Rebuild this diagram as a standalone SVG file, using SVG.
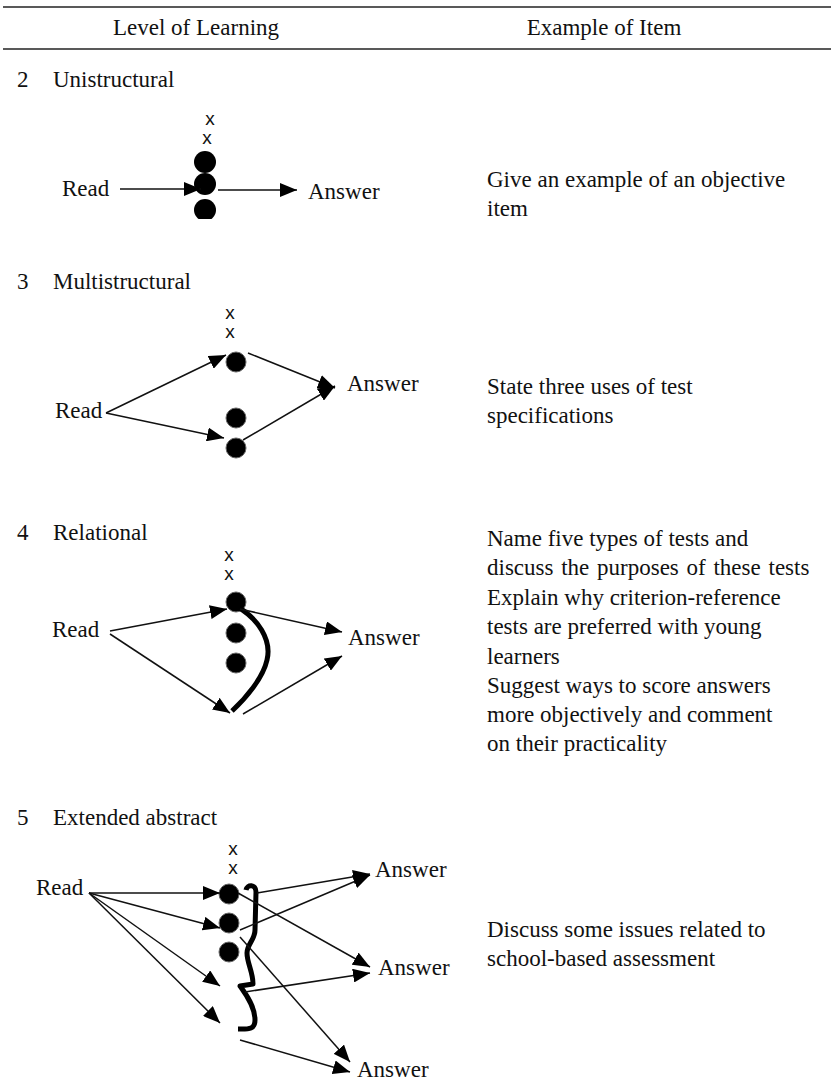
<svg xmlns="http://www.w3.org/2000/svg" width="831" height="1088" viewBox="0 0 831 1088">
<style>
.t{font-family:"Liberation Serif","Times New Roman",serif;font-size:23px;fill:#111}
.x{font-family:"Liberation Sans",Arial,sans-serif;font-size:19px;fill:#111;text-anchor:middle}
.ln{stroke:#111;stroke-width:1.5;fill:none}
.rule{stroke:#222;stroke-width:1.5}
.dot{fill:#000;stroke:#666;stroke-width:1}
.brace{stroke:#000;stroke-width:5;fill:none;stroke-linecap:butt;stroke-linejoin:round}
</style>
<defs>
<marker id="ah" markerUnits="userSpaceOnUse" markerWidth="18" markerHeight="14" refX="17" refY="7" orient="auto">
<path d="M0,0 L17,7 L0,14 z" fill="#000"/>
</marker>
<clipPath id="c2"><rect x="150" y="140" width="120" height="79"/></clipPath>
</defs>

<g id="header">
<line class="rule" x1="3" y1="7" x2="831" y2="7"/>
<line class="rule" x1="3" y1="49" x2="831" y2="49"/>
<text class="t" x="196" y="35" text-anchor="middle">Level of Learning</text>
<text class="t" x="604" y="35" text-anchor="middle">Example of Item</text>
</g>

<g id="level2">
<text class="t" x="17" y="87">2</text>
<text class="t" x="53" y="87">Unistructural</text>
<text class="x" x="210" y="125">x</text>
<text class="x" x="207" y="144">x</text>
<g clip-path="url(#c2)">
<circle cx="205" cy="162" r="11" fill="#000"/>
<circle cx="205" cy="184" r="11" fill="#000"/>
<circle cx="205" cy="210" r="11" fill="#000"/>
</g>
<text class="t" x="62" y="196">Read</text>
<text class="t" x="308" y="199">Answer</text>
<text class="t" x="487" y="187">Give an example of an objective</text>
<text class="t" x="487" y="216">item</text>
</g>

<g id="level3">
<text class="t" x="17" y="289">3</text>
<text class="t" x="53" y="289">Multistructural</text>
<text class="x" x="230" y="319">x</text>
<text class="x" x="230" y="338">x</text>
<circle class="dot" cx="236" cy="362" r="10"/>
<circle class="dot" cx="236" cy="418" r="10"/>
<circle class="dot" cx="236" cy="448" r="10"/>
<text class="t" x="55" y="418">Read</text>
<text class="t" x="347" y="391">Answer</text>
<text class="t" x="487" y="394">State three uses of test</text>
<text class="t" x="487" y="423">specifications</text>
</g>

<g id="level4">
<text class="t" x="17" y="540">4</text>
<text class="t" x="53" y="540">Relational</text>
<text class="x" x="229" y="561">x</text>
<text class="x" x="229" y="580">x</text>
<circle class="dot" cx="236" cy="602" r="10"/>
<circle class="dot" cx="236" cy="633" r="10"/>
<circle class="dot" cx="236" cy="663" r="10"/>
<path class="brace" d="M236,606 C258,618 272,640 267,660 C263,678 246,698 232,711"/>
<text class="t" x="52" y="637">Read</text>
<text class="t" x="348" y="645">Answer</text>
<text class="t" x="487" y="546">Name five types of tests and</text>
<text class="t" x="487" y="575" word-spacing="2">discuss the purposes of these tests</text>
<text class="t" x="487" y="605">Explain why criterion-reference</text>
<text class="t" x="487" y="634">tests are preferred with young</text>
<text class="t" x="487" y="664">learners</text>
<text class="t" x="487" y="693">Suggest ways to score answers</text>
<text class="t" x="487" y="722">more objectively and comment</text>
<text class="t" x="487" y="751">on their practicality</text>
</g>

<g id="level5">
<text class="t" x="17" y="825">5</text>
<text class="t" x="53" y="825">Extended abstract</text>
<text class="x" x="233" y="855">x</text>
<text class="x" x="233" y="874">x</text>
<circle class="dot" cx="229" cy="894" r="10"/>
<circle class="dot" cx="229" cy="923" r="10"/>
<circle class="dot" cx="229" cy="952" r="10"/>
<path class="brace" d="M246,890 C247,884 256,884 256,892 L255,930 C255,940 247,944 247,953 C247,963 253,972 253,984 L240,986 C245,993 255,1006 255,1020 C255,1030 248,1029 238,1029"/>
<text class="t" x="36" y="895">Read</text>
<text class="t" x="375" y="877">Answer</text>
<text class="t" x="378" y="975">Answer</text>
<text class="t" x="357" y="1077">Answer</text>
<text class="t" x="487" y="937">Discuss some issues related to</text>
<text class="t" x="487" y="966">school-based assessment</text>
</g>

<g id="connectors">
<line class="ln" x1="120" y1="189" x2="201" y2="189" marker-end="url(#ah)"/>
<line class="ln" x1="218" y1="190" x2="297" y2="190" marker-end="url(#ah)"/>

<line class="ln" x1="106" y1="413" x2="226" y2="355" marker-end="url(#ah)"/>
<line class="ln" x1="106" y1="413" x2="224" y2="438" marker-end="url(#ah)"/>
<line class="ln" x1="248" y1="353" x2="335" y2="388" marker-end="url(#ah)"/>
<line class="ln" x1="243" y1="440" x2="335" y2="386" marker-end="url(#ah)"/>

<line class="ln" x1="110" y1="631" x2="227" y2="609" marker-end="url(#ah)"/>
<line class="ln" x1="110" y1="634" x2="230" y2="713" marker-end="url(#ah)"/>
<line class="ln" x1="240" y1="609" x2="342" y2="632" marker-end="url(#ah)"/>
<line class="ln" x1="243" y1="714" x2="342" y2="656" marker-end="url(#ah)"/>

<line class="ln" x1="89" y1="893" x2="220" y2="893" marker-end="url(#ah)"/>
<line class="ln" x1="89" y1="893" x2="220" y2="928" marker-end="url(#ah)"/>
<line class="ln" x1="89" y1="893" x2="220" y2="986" marker-end="url(#ah)"/>
<line class="ln" x1="89" y1="893" x2="220" y2="1023" marker-end="url(#ah)"/>
<line class="ln" x1="257" y1="893" x2="370" y2="874" marker-end="url(#ah)"/>
<line class="ln" x1="240" y1="930" x2="370" y2="875" marker-end="url(#ah)"/>
<line class="ln" x1="238" y1="893" x2="370" y2="967" marker-end="url(#ah)"/>
<line class="ln" x1="245" y1="992" x2="370" y2="973" marker-end="url(#ah)"/>
<line class="ln" x1="240" y1="937" x2="350" y2="1062" marker-end="url(#ah)"/>
<line class="ln" x1="240" y1="1040" x2="350" y2="1072" marker-end="url(#ah)"/>
</g>
</svg>
